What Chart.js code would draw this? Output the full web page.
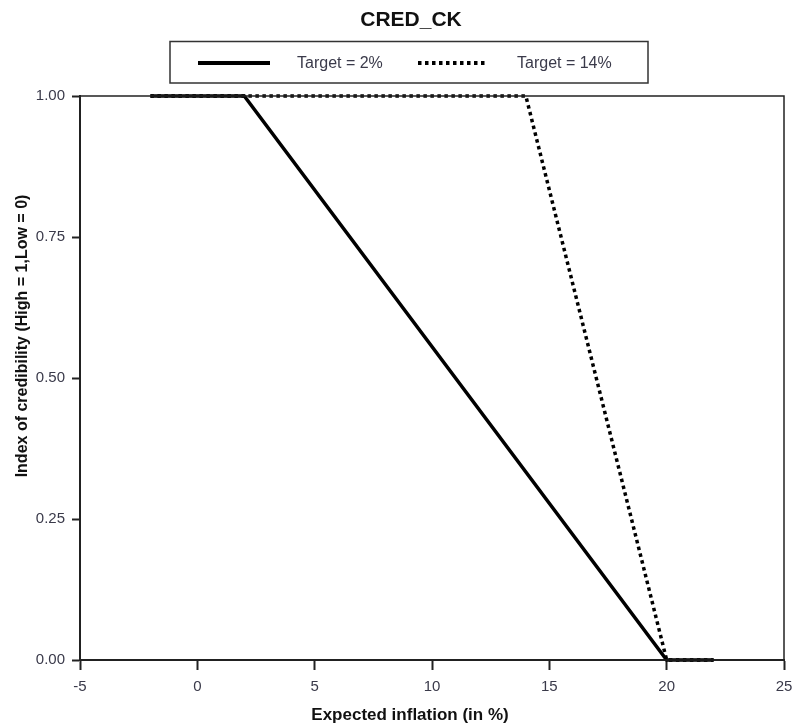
<!DOCTYPE html>
<html>
<head>
<meta charset="utf-8">
<script src="https://cdn.jsdelivr.net/npm/chart.js@4"></script>
<style>
html,body{margin:0;padding:0;background:#fff;}
#wrap{width:792px;height:724px;position:relative;}
</style>
</head>
<body>
<div id="wrap"><canvas id="c" width="792" height="724"></canvas></div>
<script>
const chartTitle = "CRED_CK";
const xAxisTitle = "Expected inflation (in %)";
const yAxisTitle = "Index of credibility (High = 1,Low = 0)";
const seriesLabels = ["Target = 2%", "Target = 14%"];
const target2X = [-2, 2, 20, 22];
const target2Y = [1, 1, 0, 0];
const target14X = [-2, 14, 20, 22];
const target14Y = [1, 1, 0, 0];
const xTicks = [-5, 0, 5, 10, 15, 20, 25];
const yTicks = [0, 0.25, 0.5, 0.75, 1];

const toPts = (xs, ys) => xs.map((x, i) => ({x: x, y: ys[i]}));
const FONT = "'Liberation Sans', Arial, Helvetica, sans-serif";

const decorPlugin = {
  id: 'decor',
  afterDraw(chart) {
    const ctx = chart.ctx;
    const a = chart.chartArea;
    ctx.save();
    ctx.strokeStyle = '#222';
    ctx.lineWidth = 1.5;
    ctx.strokeRect(a.left, a.top, a.right - a.left, a.bottom - a.top);
    ctx.fillStyle = '#111';
    ctx.textAlign = 'center';
    ctx.textBaseline = 'middle';
    ctx.font = "bold 21px " + FONT;
    ctx.fillText(chartTitle, 411, 20);
    ctx.font = "bold 17px " + FONT;
    ctx.fillText(xAxisTitle, 410, 715);
    ctx.save();
    ctx.translate(23, 336);
    ctx.rotate(-Math.PI / 2);
    ctx.font = "bold 16px " + FONT;
    ctx.fillText(yAxisTitle, 0, 0);
    ctx.restore();
    ctx.strokeStyle = '#333';
    ctx.lineWidth = 1.5;
    ctx.strokeRect(170, 41.5, 478, 41.5);
    const ly = 63;
    const ds = chart.data.datasets;
    const items = [
      {x1: 198, x2: 270, tx: 297},
      {x1: 418, x2: 488, tx: 517}
    ];
    items.forEach((it, i) => {
      const d = ds[i];
      ctx.beginPath();
      ctx.strokeStyle = d.borderColor;
      ctx.lineWidth = 4;
      ctx.setLineDash(d.borderDash || []);
      ctx.moveTo(it.x1, ly);
      ctx.lineTo(it.x2, ly);
      ctx.stroke();
      ctx.setLineDash([]);
      ctx.fillStyle = '#3a3a4a';
      ctx.textAlign = 'left';
      ctx.font = "16px " + FONT;
      ctx.fillText(d.label, it.tx, ly + 1);
    });
    ctx.restore();
  }
};

new Chart(document.getElementById('c'), {
  type: 'line',
  data: {
    datasets: [
      {
        label: seriesLabels[0],
        data: toPts(target2X, target2Y),
        borderColor: '#000',
        borderWidth: 3.5,
        pointRadius: 0,
        tension: 0,
        fill: false,
        clip: 8
      },
      {
        label: seriesLabels[1],
        data: toPts(target14X, target14Y),
        borderColor: '#000',
        borderWidth: 3.5,
        borderDash: [3.5, 3.5],
        pointRadius: 0,
        tension: 0,
        fill: false,
        clip: 8
      }
    ]
  },
  options: {
    responsive: false,
    animation: false,
    devicePixelRatio: 1,
    layout: {padding: {top: 96, right: 8, left: 0, bottom: 0}},
    plugins: {legend: {display: false}, title: {display: false}, tooltip: {enabled: false}},
    scales: {
      x: {
        type: 'linear',
        min: -5, max: 25,
        afterBuildTicks: s => { s.ticks = xTicks.map(v => ({value: v})); },
        afterFit: s => { s.height = 64; s.paddingLeft = 0; s.paddingRight = 0; },
        grid: {drawOnChartArea: false, drawTicks: true, tickLength: 10, tickWidth: 2, tickColor: '#222'},
        border: {display: true, color: '#222', width: 2},
        ticks: {padding: 8, color: '#3a3a4a', font: {family: FONT, size: 15}, maxRotation: 0, callback: v => String(v)}
      },
      y: {
        type: 'linear',
        min: 0, max: 1,
        afterBuildTicks: s => { s.ticks = yTicks.map(v => ({value: v})); },
        afterFit: s => { s.width = 80; s.paddingTop = 0; s.paddingBottom = 0; },
        grid: {drawOnChartArea: false, drawTicks: true, tickLength: 8, tickWidth: 2, tickColor: '#222'},
        border: {display: true, color: '#222', width: 2},
        ticks: {padding: 7, color: '#3a3a4a', font: {family: FONT, size: 15}, callback: v => Number(v).toFixed(2)}
      }
    }
  },
  plugins: [decorPlugin]
});
</script>
</body>
</html>
